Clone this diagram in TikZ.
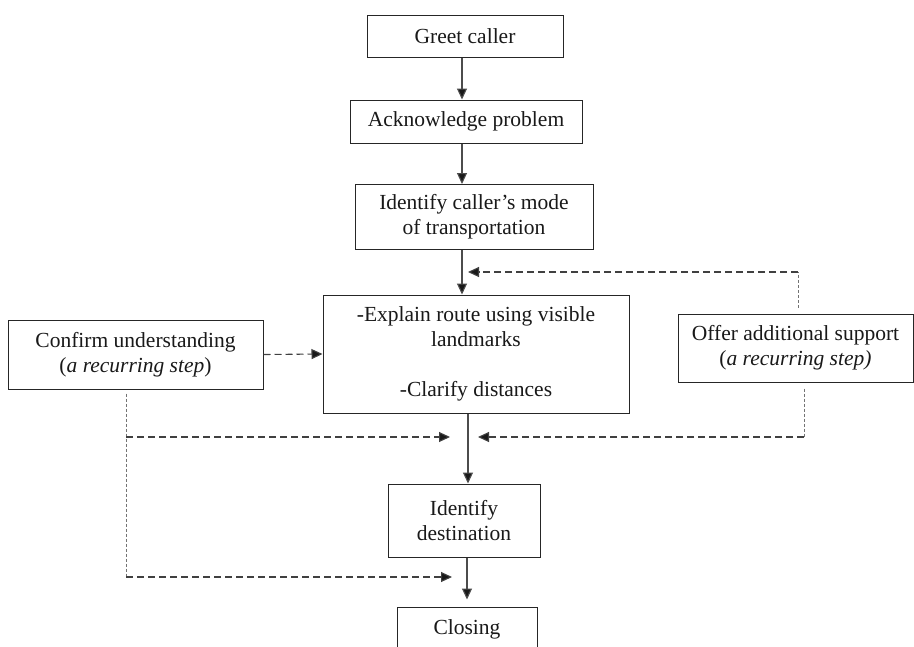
\documentclass[tikz,border=0pt]{standalone}
\usepackage{fontspec}
\setmainfont{Liberation Serif}
\usetikzlibrary{arrows.meta}
\begin{document}
\begin{tikzpicture}[x=1pt,y=-1pt,
  every node/.style={font=\fontsize{21.5}{25}\selectfont},
  box/.style={draw=black!85,line width=1pt,inner sep=0pt,align=center,text=black!90},
  arr/.style={draw=black!70,line width=1.1pt,-{Triangle[length=11pt,width=10pt,fill=black!90]}},
  dasharr/.style={draw=black!75,line width=1.1pt,dash pattern=on 7pt off 4pt,-{Triangle[length=11pt,width=10pt,fill=black!90]}},
  dotline/.style={draw=black!55,line width=0.9pt,dash pattern=on 3pt off 2pt}]
\useasboundingbox (0,0) rectangle (914,646);
\clip (0,0) rectangle (914,646);
\fill[white] (0,0) rectangle (914,646);

\node[box,minimum width=196pt,minimum height=42pt] (greet) at (465,36) {Greet caller};
\node[box,minimum width=232pt,minimum height=43pt] (ack) at (466,121.5) {Acknowledge problem};
\node[box,minimum width=238pt,minimum height=65pt] (ident) at (474,217) {Identify caller’s mode\\of transportation};
\node[box,minimum width=306pt,minimum height=118pt] (explain) at (476,354) {-Explain route using visible\\landmarks\\[25pt]-Clarify distances};
\node[box,minimum width=255pt,minimum height=69pt] (confirm) at (135.5,354.5) {Confirm understanding\\(\textit{a recurring step})};
\node[box,minimum width=235pt,minimum height=68pt] (offer) at (795.5,348) {Offer additional support\\(\textit{a recurring step)}};
\node[box,minimum width=152pt,minimum height=73pt] (dest) at (464,520.5) {Identify\\destination};
\node[box,minimum width=140pt,minimum height=44pt] (closing) at (467,629) {Closing};

\coordinate (s1) at (462,0);
\coordinate (s2) at (468,0);
\coordinate (s3) at (467,0);
\draw[arr] (greet.south -| s1) -- (ack.north -| s1);
\draw[arr] (ack.south -| s1) -- (ident.north -| s1);
\draw[arr] (ident.south -| s1) -- (explain.north -| s1);
\draw[arr] (explain.south -| s2) -- (dest.north -| s2);
\draw[arr,shorten >=7pt] (dest.south -| s3) -- (closing.north -| s3);

% confirm understanding
\coordinate (cm) at (126,437);
\coordinate (cl) at (126,577);
\coordinate (cmend) at (450,437);
\coordinate (clend) at (452,577);
\draw[dasharr] (confirm.east) -- (explain.west);
\draw[dotline,shorten <=4pt] (confirm.south -| cl) -- (cl);
\draw[dasharr] (cm) -- (cmend);
\draw[dasharr] (cl) -- (clend);

% offer additional support
\coordinate (ou) at (798,272);
\coordinate (ouend) at (468,272);
\coordinate (ol) at (804,437);
\coordinate (olend) at (478,437);
\draw[dotline,shorten <=6pt] (offer.north -| ou) -- (ou);
\draw[dasharr] (ou) -- (ouend);
\draw[dotline,shorten <=6pt] (offer.south -| ol) -- (ol);
\draw[dasharr] (ol) -- (olend);
\end{tikzpicture}
\end{document}
